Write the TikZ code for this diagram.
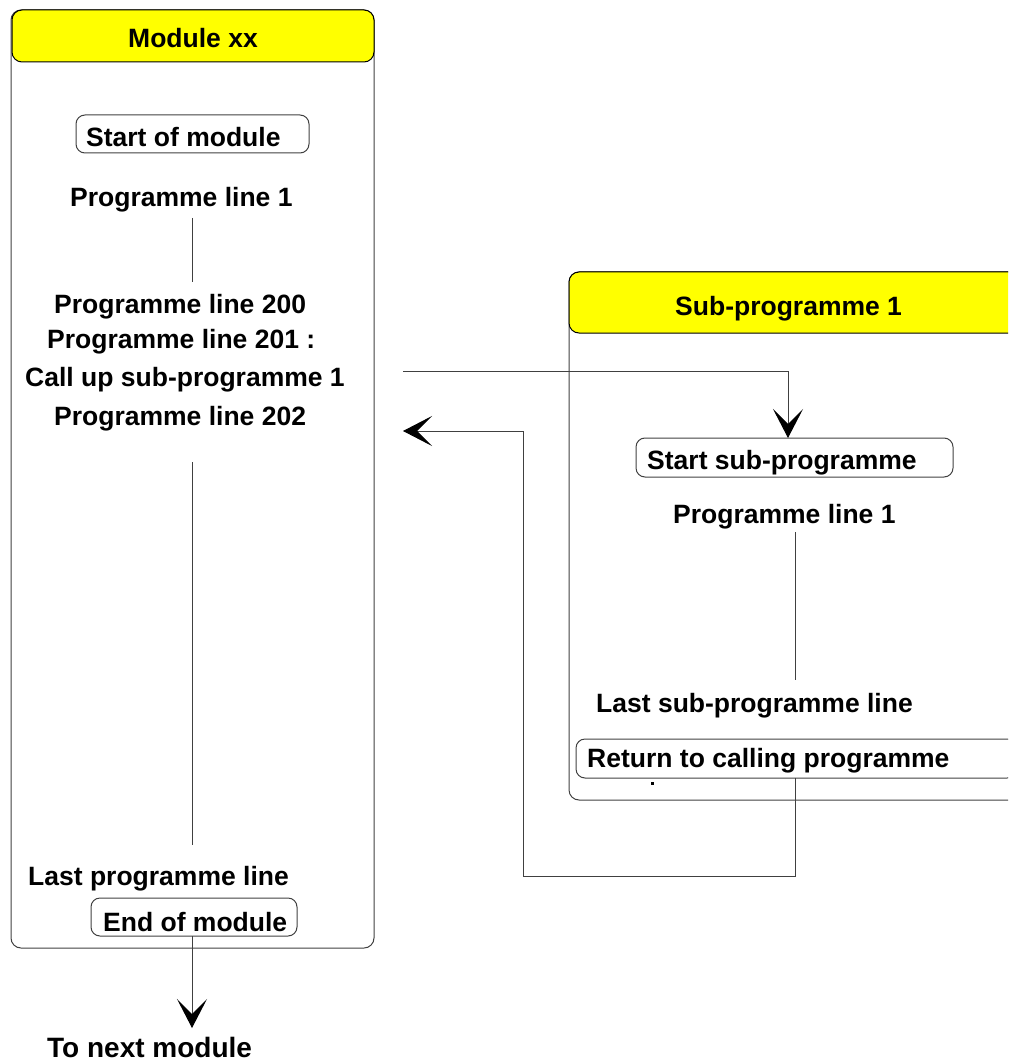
\documentclass[tikz,border=0pt]{standalone}
\usepackage{fontspec}
\setmainfont{Liberation Sans}
\usetikzlibrary{arrows.meta}
\definecolor{hdr}{HTML}{FFFF00}
\tikzset{
  txt/.style={font=\bfseries\fontsize{26.5}{30}\selectfont, inner sep=0pt, anchor=base west},
  frame/.style={draw=black!75, line width=1pt, rounded corners=10pt},
  header/.style={draw=black, fill=hdr, line width=1pt, rounded corners=10pt},
  pbox/.style={draw=black!75, line width=1pt, rounded corners=9pt},
  conn/.style={draw=black!75, line width=1pt},
  bigtip/.style={-{Stealth[length=29pt, width=30pt, inset=15pt, black, fill=black]}},
}
\begin{document}
\begin{tikzpicture}[x=1pt, y=-1pt]
\useasboundingbox (0,0) rectangle (1008,1064);
\clip (0,0) rectangle (1008,1064);

% ---- Module frame
\draw[frame] (11,10) rectangle (374,948);
\draw[header] (12,10) rectangle (374,62);
\node[txt] (modtitle) at (128,48) {Module xx};

\draw[pbox] (76,115) rectangle (309,153);
\coordinate (startmodbox) at (192,153);
\node[txt] (startmod) at (86,147) {Start of module};

\node[txt] (pl1) at (70,207) {Programme line 1};
\coordinate (v1a) at (192,218);
\coordinate (v1b) at (192,282);
\draw[conn] (v1a) -- (v1b);

\node[txt] (pl200) at (54,313) {Programme line 200};
\node[txt] (pl201) at (47,348) {Programme line 201 :};
\node[txt] (callup) at (25,386) {Call up sub-programme 1};
\node[txt] (pl202) at (54,425) {Programme line 202};

\coordinate (v2a) at (192,462);
\coordinate (v2b) at (192,845);
\draw[conn] (v2a) -- (v2b);

\node[txt] (lastpl) at (28,885) {Last programme line};
\draw[pbox] (91,898) rectangle (297,936);
\coordinate (endbox) at (192,936);
\node[txt] (endmod) at (103,931) {End of module};

\coordinate (nexttip) at (192,1028);
\draw[conn, bigtip] (endbox) -- (nexttip);
\node[txt, font=\bfseries\fontsize{28}{30}\selectfont] (nextmod) at (47,1057) {To next module};

% ---- Sub-programme frame
\draw[frame] (569,272) rectangle (1030,800);
\draw[header] (569,272) rectangle (1030,333);
\node[txt] (subtitle) at (675,315) {Sub-programme 1};

\draw[pbox] (636,438) rectangle (953,477);
\coordinate (startsubtop) at (788,438);
\node[txt] (startsub) at (647,469) {Start sub-programme};

\node[txt] (spl1) at (673,523) {Programme line 1};
\coordinate (v3a) at (795,532);
\coordinate (v3b) at (795,680);
\draw[conn] (v3a) -- (v3b);

\node[txt] (lastsub) at (596,712) {Last sub-programme line};

\draw[pbox] (576,739) rectangle (1016,778);
\coordinate (retbox) at (795,778);
\node[txt] (ret) at (587,767) {Return to calling programme};
\fill[black] (651,782) rectangle (654,785);

% ---- Call and return connectors
\coordinate (callstart) at (403,371);
\draw[conn, bigtip] (callstart) -| (startsubtop);

\coordinate (rettip) at (403,431);
\draw[conn, bigtip] (retbox) |- (523,876) |- (rettip);
\end{tikzpicture}
\end{document}
